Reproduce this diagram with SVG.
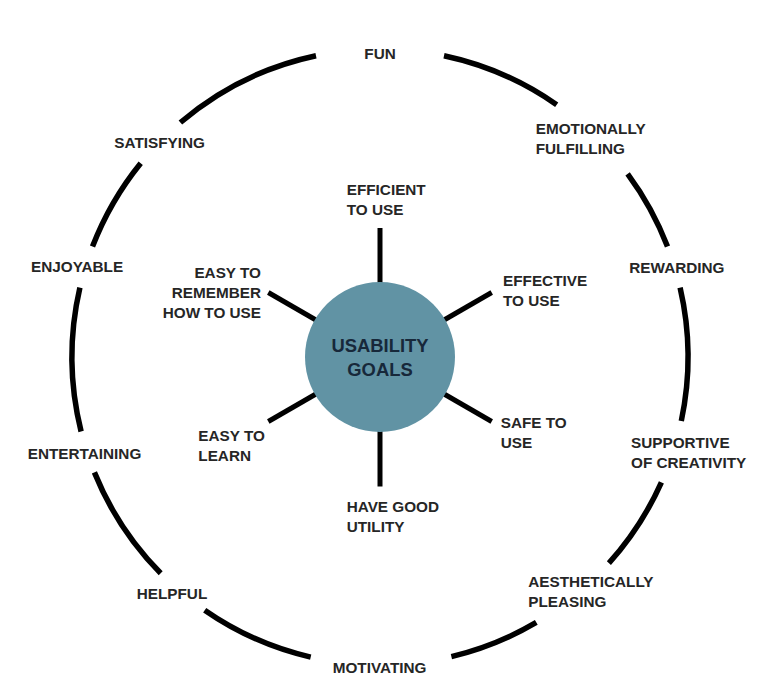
<svg xmlns="http://www.w3.org/2000/svg" width="771" height="692" viewBox="0 0 771 692">
  <style>
    .lbl { font-family: "Liberation Sans", Arial, sans-serif; font-weight: bold; font-size: 15.3px; fill: #262626; }
    .end { text-anchor: end; }
    .hub { font-family: "Liberation Sans", Arial, sans-serif; font-weight: bold; font-size: 18.4px; fill: #17283a; text-anchor: middle; }
    .arc { fill: none; stroke: #000; stroke-width: 5.5; stroke-linecap: butt; }
    .spoke { stroke: #000; stroke-width: 5; stroke-linecap: butt; }
  </style>
  <rect width="771" height="692" fill="#fff"/>

  <g id="ring">
    <path class="arc" d="M444.0 55.7 A308 308 0 0 1 556.7 104.7"/>
    <path class="arc" d="M627.6 173.8 A308 308 0 0 1 667.5 246.6"/>
    <path class="arc" d="M680.1 287.7 A308 308 0 0 1 681.3 421.0"/>
    <path class="arc" d="M661.4 482.3 A308 308 0 0 1 608.9 563.1"/>
    <path class="arc" d="M536.3 622.4 A308 308 0 0 1 451.4 656.6"/>
    <path class="arc" d="M310.7 657.1 A308 308 0 0 1 204.7 610.2"/>
    <path class="arc" d="M160.7 573.3 A308 308 0 0 1 94.4 472.4"/>
    <path class="arc" d="M81.1 431.5 A308 308 0 0 1 79.9 287.7"/>
    <path class="arc" d="M92.5 246.6 A308 308 0 0 1 140.7 163.2"/>
    <path class="arc" d="M180.4 122.5 A308 308 0 0 1 316.0 55.7"/>
  </g>

  <g id="connectors">
    <line class="spoke" x1="380" y1="283" x2="380" y2="228"/>
    <line class="spoke" x1="444.1" y1="320" x2="491.7" y2="292.5"/>
    <line class="spoke" x1="444.1" y1="394" x2="491.7" y2="421.5"/>
    <line class="spoke" x1="380" y1="431" x2="380" y2="486.5"/>
    <line class="spoke" x1="315.9" y1="394" x2="268.3" y2="421.5"/>
    <line class="spoke" x1="315.9" y1="320" x2="268.3" y2="292.5"/>
  </g>

  <g id="usability-goals">
    <circle cx="380" cy="357" r="75" fill="#6193a4"/>
    <text class="hub" x="380" y="351.7">USABILITY</text>
    <text class="hub" x="380" y="376">GOALS</text>
  </g>

  <g id="efficient"><text class="lbl" x="346.7" y="195">EFFICIENT</text><text class="lbl" x="346.7" y="214.5">TO USE</text></g>
  <g id="effective"><text class="lbl" x="503" y="286">EFFECTIVE</text><text class="lbl" x="503" y="305.5">TO USE</text></g>
  <g id="safe"><text class="lbl" x="500.7" y="428.3">SAFE TO</text><text class="lbl" x="500.7" y="448.3">USE</text></g>
  <g id="utility"><text class="lbl" x="346.7" y="511.7">HAVE GOOD</text><text class="lbl" x="346.7" y="531.7">UTILITY</text></g>
  <g id="learn"><text class="lbl" x="198.3" y="440.7">EASY TO</text><text class="lbl" x="198.3" y="460.7">LEARN</text></g>
  <g id="remember"><text class="lbl end" x="261" y="277.7">EASY TO</text><text class="lbl end" x="261" y="297.7">REMEMBER</text><text class="lbl end" x="261" y="317.7">HOW TO USE</text></g>

  <g id="fun"><text class="lbl" x="364.3" y="59.3">FUN</text></g>
  <g id="emotionally"><text class="lbl" x="535.7" y="134">EMOTIONALLY</text><text class="lbl" x="535.7" y="153.5">FULFILLING</text></g>
  <g id="rewarding"><text class="lbl" x="629.3" y="272.7">REWARDING</text></g>
  <g id="supportive"><text class="lbl" x="631" y="448.3">SUPPORTIVE</text><text class="lbl" x="631" y="468.3">OF CREATIVITY</text></g>
  <g id="aesthetically"><text class="lbl" x="528.3" y="586.7">AESTHETICALLY</text><text class="lbl" x="528.3" y="606.7">PLEASING</text></g>
  <g id="motivating"><text class="lbl" x="332.7" y="673.3">MOTIVATING</text></g>
  <g id="helpful"><text class="lbl" x="136.7" y="599">HELPFUL</text></g>
  <g id="entertaining"><text class="lbl" x="27.7" y="459">ENTERTAINING</text></g>
  <g id="enjoyable"><text class="lbl" x="31" y="271.7">ENJOYABLE</text></g>
  <g id="satisfying"><text class="lbl" x="114.3" y="148.3">SATISFYING</text></g>
</svg>
